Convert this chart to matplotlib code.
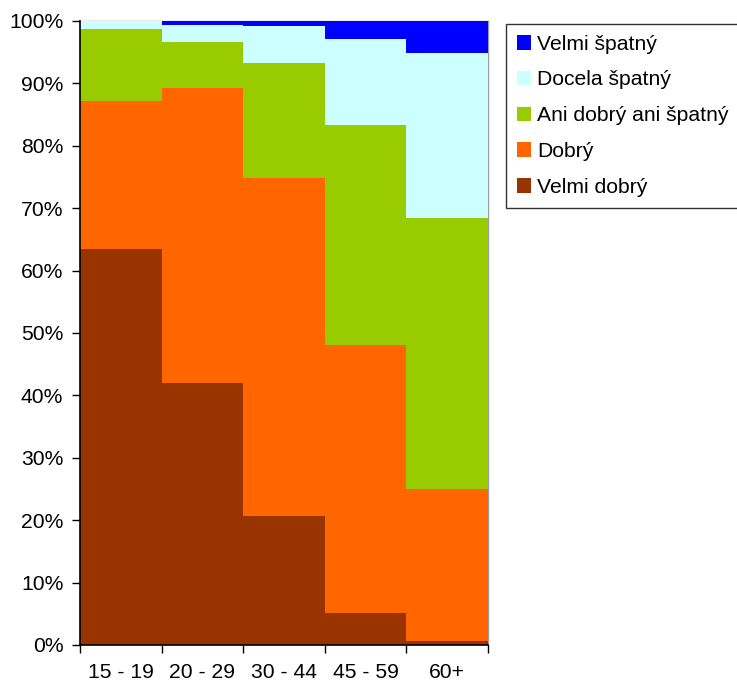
import matplotlib
matplotlib.use("Agg")
import matplotlib.pyplot as plt
from matplotlib.ticker import FixedLocator, FuncFormatter
import numpy as np

plt.rcParams['font.family'] = ['Liberation Sans', 'DejaVu Sans']

# Age groups and share of each self-rated health category (percent)
age_groups = ["15 - 19", "20 - 29", "30 - 44", "45 - 59", "60+"]
velmi_dobry = [63.5, 42.0, 20.7, 5.2, 0.7]
dobry = [23.6, 47.3, 54.1, 42.9, 24.3]
ani_dobry_ani_spatny = [11.6, 7.3, 18.4, 35.2, 43.4]
docela_spatny = [1.3, 2.8, 6.0, 13.8, 26.4]
velmi_spatny = [0.0, 0.6, 0.8, 2.9, 5.2]

series = [
    ("Velmi dobrý", velmi_dobry, "#993300"),
    ("Dobrý", dobry, "#FF6600"),
    ("Ani dobrý ani špatný", ani_dobry_ani_spatny, "#99CC00"),
    ("Docela špatný", docela_spatny, "#CCFFFF"),
    ("Velmi špatný", velmi_spatny, "#0000FF"),
]

FS = 15.2
W, H = 737, 681
fig = plt.figure(figsize=(W / 100, H / 100), dpi=100)
ax = fig.add_axes([80 / W, (H - 645) / H, (488 - 80) / W, (645 - 21) / H])

x = np.arange(len(age_groups))
bottom = np.zeros(len(age_groups))
handles = []
for name, vals, color in series:
    vals = np.array(vals, dtype=float)
    b = ax.bar(x, vals, width=1.0, bottom=bottom, color=color, linewidth=0,
               label=name, zorder=2)
    handles.append(b)
    bottom += vals

ax.set_xlim(-0.5, len(age_groups) - 0.5)
ax.set_ylim(0, 100)

ax.yaxis.set_major_locator(FixedLocator(np.arange(0, 101, 10)))
ax.yaxis.set_major_formatter(FuncFormatter(lambda v, p: f"{int(round(v))}%"))
ax.tick_params(axis="y", direction="out", length=6, width=1, pad=6,
               labelsize=FS, colors="black")

ax.set_xticks(x)
ax.set_xticklabels(age_groups)
ax.set_xticks(np.arange(-0.5, len(age_groups), 1.0), minor=True)
ax.tick_params(axis="x", which="major", length=0, pad=13, labelsize=FS)
ax.tick_params(axis="x", which="minor", direction="out", length=6, width=1)

for side in ("left", "bottom"):
    ax.spines[side].set_color("black")
    ax.spines[side].set_linewidth(1.2)
    ax.spines[side].set_zorder(3)
for side in ("top", "right"):
    ax.spines[side].set_color("#a0a0a0")
    ax.spines[side].set_linewidth(1.0)
    ax.spines[side].set_zorder(1)

leg = fig.legend(handles[::-1], [s[0] for s in series][::-1],
                 loc="upper left", bbox_to_anchor=(506 / W, (H - 24) / H),
                 bbox_transform=fig.transFigure, fontsize=FS,
                 frameon=True, fancybox=False, borderpad=0.5,
                 handlelength=0.7, handleheight=0.7, handletextpad=0.28,
                 labelspacing=0.8, borderaxespad=0)
leg.get_frame().set_edgecolor("black")
leg.get_frame().set_linewidth(1.0)

fig.savefig("out.png", dpi=100)
